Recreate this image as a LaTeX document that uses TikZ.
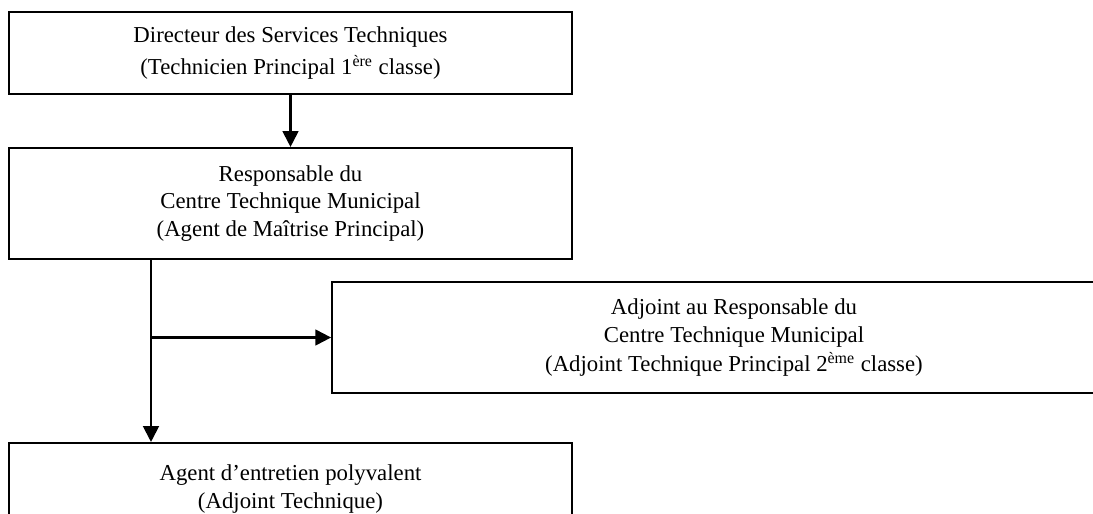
\documentclass[tikz,border=0pt]{standalone}
\usepackage{fontspec}
\setmainfont{Liberation Serif}
\usetikzlibrary{arrows.meta}

\tikzset{
  post/.style={draw, line width=1.1pt, align=center, inner sep=0pt,
    font=\fontsize{12.3}{15}\selectfont},
  link/.style={line width=1.1pt, -{Triangle[length=8.5pt,width=8.5pt]}}
}

\begin{document}
\begin{tikzpicture}[x=0.54pt,y=-0.54pt]
        \clip (0,0) rectangle (1093,514);
        \fill[white] (0,0) rectangle (1093,514);

        \node[post, minimum width=304pt, minimum height=44.3pt] at (290.5,53) (dir)
          {Directeur des Services Techniques\\[2.4pt](Technicien Principal 1\textsuperscript{ère} classe)};
        \node[post, minimum width=304pt, minimum height=60pt] at (290.5,203.5) (resp)
          {Responsable du\\Centre Technique Municipal\\(Agent de Maîtrise Principal)};
        \node[post, minimum width=434pt, minimum height=60pt] at (734,337.5) (adj)
          {Adjoint au Responsable du\\Centre Technique Municipal\\[1pt](Adjoint Technique Principal 2\textsuperscript{ème} classe)};
        \node[post, minimum width=304pt, minimum height=49.7pt] at (290.5,489) (agent)
          {Agent d’entretien polyvalent\\(Adjoint Technique)};
        \coordinate (trunk) at (151,0);

        \draw[link] (dir) -- (resp);
        \draw[link] (resp.south -| trunk) -- (agent.north -| trunk);
        \draw[link] (adj.west -| trunk) -- (adj.west);
    \end{tikzpicture}
\end{document}
